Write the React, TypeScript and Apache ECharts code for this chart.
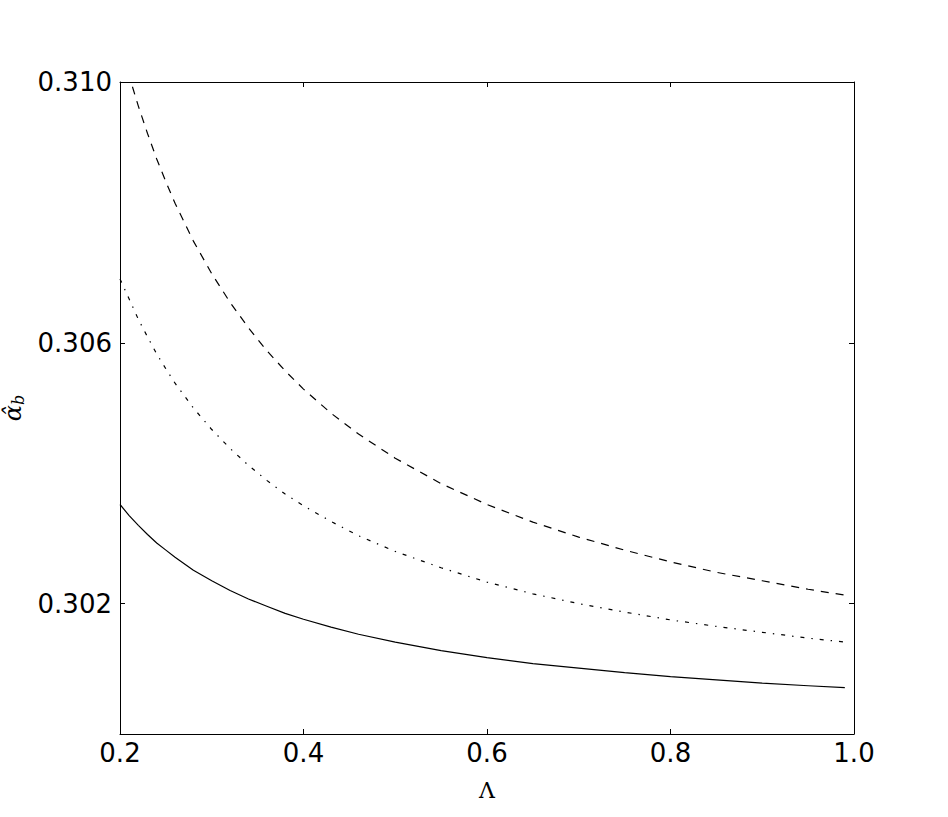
import React, { useEffect, useRef } from "react";
import * as echarts from "echarts";

const lambdaValues = [0.2, 0.21, 0.22, 0.23, 0.24, 0.25, 0.26, 0.28, 0.3, 0.32, 0.34, 0.36, 0.38, 0.4, 0.43, 0.46, 0.5, 0.55, 0.6, 0.65, 0.7, 0.75, 0.8, 0.85, 0.9, 0.95, 0.99];
const solidValues = [0.30352, 0.30335, 0.3032, 0.30306, 0.30293, 0.30282, 0.30271, 0.30251, 0.30235, 0.3022, 0.30207, 0.30196, 0.30185, 0.30176, 0.30164, 0.30153, 0.30141, 0.30128, 0.30117, 0.30108, 0.30101, 0.30094, 0.30088, 0.30083, 0.30078, 0.30074, 0.30071];
const dashDotValues = [0.30698, 0.30667, 0.30636, 0.30609, 0.30583, 0.3056, 0.30538, 0.305, 0.30467, 0.30438, 0.30412, 0.30389, 0.30368, 0.3035, 0.30326, 0.30304, 0.3028, 0.30255, 0.30233, 0.30215, 0.302, 0.30187, 0.30175, 0.30165, 0.30156, 0.30147, 0.30141];
const dashedValues = [0.31059, 0.31009, 0.30963, 0.30921, 0.30882, 0.30847, 0.30814, 0.30756, 0.30706, 0.30662, 0.30623, 0.30588, 0.30557, 0.30529, 0.30492, 0.3046, 0.30423, 0.30384, 0.30352, 0.30325, 0.30302, 0.30282, 0.30264, 0.30248, 0.30235, 0.30222, 0.30213];
const yTickValues = [0.302, 0.306, 0.31];

const pair = (ys: number[]) => lambdaValues.map((x, i) => [x, ys[i]]);

export default function App() {
  const ref = useRef<HTMLDivElement>(null);
  useEffect(() => {
    document.body.style.margin = "0";
    const chart = echarts.init(ref.current!, null, { renderer: "svg" });
    const axisLine = { show: true, lineStyle: { color: "#000", width: 1 } };
    const tick = { show: true, inside: true, length: 5, lineStyle: { color: "#000", width: 1 } };
    const labelFont = { fontFamily: "DejaVu Sans", fontSize: 26, color: "#000" };
    chart.setOption({
      animation: false,
      backgroundColor: "#fff",
      grid: { left: 120, top: 82, width: 734, height: 652, containLabel: false, outerBoundsMode: "none" },
      xAxis: [
        {
          type: "value",
          min: 0.2,
          max: 1.0,
          interval: 0.2,
          position: "bottom",
          axisLine,
          axisTick: tick,
          splitLine: { show: false },
          axisLabel: { ...labelFont, margin: 6, formatter: (v: number) => v.toFixed(1), showMinLabel: true, showMaxLabel: true },
          name: "Λ",
          nameLocation: "middle",
          nameGap: 45,
          nameTextStyle: { fontFamily: "DejaVu Serif", fontSize: 22, color: "#000" },
        },
        {
          type: "value",
          min: 0.2,
          max: 1.0,
          interval: 0.2,
          position: "top",
          axisLine,
          axisTick: tick,
          splitLine: { show: false },
          axisLabel: { show: false },
        },
      ],
      yAxis: [
        {
          type: "value",
          min: 0.3,
          max: 0.31,
          position: "left",
          axisLine,
          axisTick: { ...tick, customValues: yTickValues },
          splitLine: { show: false },
          axisLabel: { ...labelFont, margin: 8, customValues: yTickValues, formatter: (v: number) => v.toFixed(3) },
          name: "{a|α̂}{b|b}",
          nameLocation: "middle",
          nameRotate: 90,
          nameGap: 88,
          nameTextStyle: {
            rich: {
              a: { fontFamily: "DejaVu Serif", fontStyle: "italic", fontSize: 24, color: "#000", lineHeight: 20 },
              b: { fontFamily: "DejaVu Serif", fontStyle: "italic", fontSize: 16, color: "#000", lineHeight: 28, verticalAlign: "bottom" },
            },
          },
        },
        {
          type: "value",
          min: 0.3,
          max: 0.31,
          position: "right",
          axisLine,
          axisTick: { ...tick, customValues: yTickValues },
          splitLine: { show: false },
          axisLabel: { show: false },
        },
      ],
      series: [
        {
          type: "line",
          data: pair(solidValues),
          showSymbol: false,
          clip: true,
          lineStyle: { color: "#000", width: 1.2, type: "solid" },
        },
        {
          type: "line",
          data: pair(dashDotValues),
          showSymbol: false,
          clip: true,
          lineStyle: { color: "#000", width: 1.2, type: [4, 7, 1.4, 7] },
        },
        {
          type: "line",
          data: pair(dashedValues),
          showSymbol: false,
          clip: true,
          lineStyle: { color: "#000", width: 1.2, type: [8, 7] },
        },
      ],
    });
    return () => chart.dispose();
  }, []);
  return <div ref={ref} style={{ width: 948, height: 817 }} />;
}
